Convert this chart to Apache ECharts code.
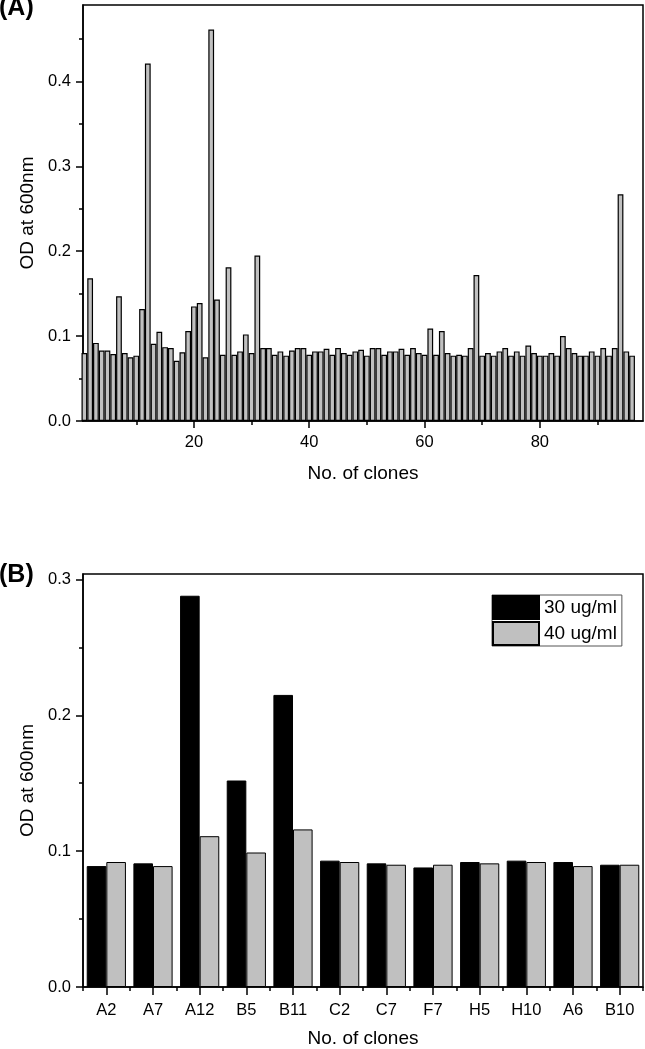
<!DOCTYPE html>
<html>
<head>
<meta charset="utf-8">
<script src="https://cdn.jsdelivr.net/npm/echarts@6/dist/echarts.min.js"></script>
<style>
html,body{margin:0;padding:0;background:#fff;}
#chart{width:645px;height:1049px;}
</style>
</head>
<body>
<div id="chart"></div>
<script>
// ---------- Panel A data ----------
const aValues = [
  0.080, 0.168, 0.092, 0.083, 0.083, 0.079, 0.147, 0.080, 0.075, 0.077,
  0.132, 0.421, 0.091, 0.105, 0.087, 0.086, 0.071, 0.081, 0.106, 0.135,
  0.139, 0.075, 0.461, 0.143, 0.078, 0.181, 0.078, 0.082, 0.102, 0.080,
  0.195, 0.086, 0.086, 0.078, 0.082, 0.077, 0.083, 0.086, 0.086, 0.078,
  0.082, 0.082, 0.085, 0.078, 0.086, 0.080, 0.078, 0.082, 0.084, 0.077,
  0.086, 0.086, 0.078, 0.082, 0.082, 0.085, 0.078, 0.086, 0.080, 0.078,
  0.109, 0.078, 0.106, 0.080, 0.077, 0.078, 0.077, 0.086, 0.172, 0.077,
  0.080, 0.077, 0.082, 0.086, 0.077, 0.082, 0.077, 0.089, 0.080, 0.077,
  0.077, 0.080, 0.077, 0.100, 0.086, 0.080, 0.077, 0.077, 0.082, 0.077,
  0.086, 0.077, 0.086, 0.267, 0.082, 0.077
];
const aClones = aValues.map((v, i) => i + 1);
const aXMajorTicks = [20, 40, 60, 80];
const aXMinorTicks = [10, 30, 50, 70, 90];
const aYMajorTicks = [0, 0.1, 0.2, 0.3, 0.4];
const aYMinorTicks = [0.05, 0.15, 0.25, 0.35, 0.45];

// ---------- Panel B data ----------
const bCategories = ['A2', 'A7', 'A12', 'B5', 'B11', 'C2', 'C7', 'F7', 'H5', 'H10', 'A6', 'B10'];
const b30 = [0.089, 0.091, 0.288, 0.152, 0.215, 0.093, 0.091, 0.088, 0.092, 0.093, 0.092, 0.090];
const b40 = [0.092, 0.089, 0.111, 0.099, 0.116, 0.092, 0.090, 0.090, 0.091, 0.092, 0.089, 0.090];
const bSeriesNames = ['30 ug/ml', '40 ug/ml'];
const bYMajorTicks = [0, 0.1, 0.2, 0.3];
const bYMinorTicks = [0.05, 0.15, 0.25];

const FONT = "'Liberation Sans', Arial, Helvetica, sans-serif";
const lineStyle = { color: '#000', width: 1.5 };
const TICK_FS = 16.5;
const NAME_FS = 19;

const chart = echarts.init(document.getElementById('chart'), null, { renderer: 'canvas' });

function tickAxisBase(extra) {
  return Object.assign({
    axisLine: { show: true, lineStyle: lineStyle },
    splitLine: { show: false },
    axisLabel: { show: false },
    axisTick: { show: false }
  }, extra);
}

const option = {
  backgroundColor: '#fff',
  animation: false,
  textStyle: { fontFamily: FONT, color: '#000' },
  title: [
    { text: '(A)', left: -1, top: -4, padding: 0, textStyle: { fontFamily: FONT, fontWeight: 'bold', fontSize: 25, color: '#000' } },
    { text: '(B)', left: -1, top: 563, padding: 0, textStyle: { fontFamily: FONT, fontWeight: 'bold', fontSize: 25, color: '#000' } }
  ],
  grid: [
    { left: 83, top: 5, width: 560, height: 416, show: true, borderColor: '#000', borderWidth: 1.5, backgroundColor: 'transparent', containLabel: false },
    { left: 83, top: 574, width: 560, height: 416, show: true, borderColor: '#000', borderWidth: 1.5, backgroundColor: 'transparent', containLabel: false }
  ],
  legend: {
    data: bSeriesNames,
    orient: 'vertical',
    left: 492,
    top: 595,
    itemWidth: 46,
    itemHeight: 23,
    itemGap: 1,
    padding: [0, 5, 0, 0],
    borderColor: '#555',
    borderWidth: 1,
    icon: 'rect',
    textStyle: { fontFamily: FONT, fontSize: NAME_FS, color: '#000' }
  },
  xAxis: [
    tickAxisBase({
      type: 'value', gridIndex: 0, position: 'bottom', min: 0.76, max: 97.9,
      axisTick: { show: true, customValues: aXMajorTicks, length: 7, lineStyle: lineStyle },
      axisLabel: { show: true, customValues: aXMajorTicks, fontSize: TICK_FS, margin: 13, color: '#000', fontFamily: FONT },
      name: 'No. of clones', nameLocation: 'middle', nameGap: 43,
      nameTextStyle: { fontSize: NAME_FS, color: '#000', fontFamily: FONT }
    }),
    tickAxisBase({
      type: 'value', gridIndex: 0, position: 'bottom', min: 0.76, max: 97.9,
      axisLine: { show: false },
      axisTick: { show: true, customValues: aXMinorTicks, length: 4, lineStyle: lineStyle }
    }),
    tickAxisBase({
      type: 'category', gridIndex: 1, position: 'bottom', data: bCategories,
      axisTick: { show: true, alignWithLabel: true, length: 8, lineStyle: lineStyle },
      axisLabel: { show: true, fontSize: TICK_FS, margin: 15, color: '#000', fontFamily: FONT, interval: 0 },
      name: 'No. of clones', nameLocation: 'middle', nameGap: 42,
      nameTextStyle: { fontSize: NAME_FS, color: '#000', fontFamily: FONT }
    }),
    tickAxisBase({
      type: 'category', gridIndex: 1, position: 'bottom', data: bCategories,
      axisLine: { show: false },
      axisTick: { show: true, length: 4, interval: 0, lineStyle: lineStyle }
    })
  ],
  yAxis: [
    tickAxisBase({
      type: 'value', gridIndex: 0, position: 'left', min: 0, max: 0.49,
      axisTick: { show: true, customValues: aYMajorTicks, length: 7, lineStyle: lineStyle },
      axisLabel: { show: true, customValues: aYMajorTicks, fontSize: TICK_FS, margin: 12, color: '#000', fontFamily: FONT,
        formatter: v => v.toFixed(1) },
      name: 'OD at 600nm', nameLocation: 'middle', nameGap: 44, nameRotate: 90,
      nameTextStyle: { fontSize: NAME_FS, color: '#000', fontFamily: FONT }
    }),
    tickAxisBase({
      type: 'value', gridIndex: 0, position: 'left', min: 0, max: 0.49,
      axisLine: { show: false },
      axisTick: { show: true, customValues: aYMinorTicks, length: 4, lineStyle: lineStyle }
    }),
    tickAxisBase({
      type: 'value', gridIndex: 1, position: 'left', min: 0, max: 0.304,
      axisTick: { show: true, customValues: bYMajorTicks, length: 7, lineStyle: lineStyle },
      axisLabel: { show: true, customValues: bYMajorTicks, fontSize: TICK_FS, margin: 12, color: '#000', fontFamily: FONT,
        formatter: v => v.toFixed(1) },
      name: 'OD at 600nm', nameLocation: 'middle', nameGap: 44, nameRotate: 90,
      nameTextStyle: { fontSize: NAME_FS, color: '#000', fontFamily: FONT }
    }),
    tickAxisBase({
      type: 'value', gridIndex: 1, position: 'left', min: 0, max: 0.304,
      axisLine: { show: false },
      axisTick: { show: true, customValues: bYMinorTicks, length: 4, lineStyle: lineStyle }
    })
  ],
  series: [
    {
      type: 'bar', xAxisIndex: 0, yAxisIndex: 0,
      data: aClones.map((c, i) => [c, aValues[i]]),
      barWidth: 5.77,
      itemStyle: { color: '#c0c0c0', borderColor: '#000', borderWidth: 1.2 },
      clip: true
    },
    {
      name: bSeriesNames[0], type: 'bar', xAxisIndex: 2, yAxisIndex: 2,
      data: b30, barGap: '0%', barCategoryGap: '16%',
      itemStyle: { color: '#000', borderColor: '#000', borderWidth: 1 }
    },
    {
      name: bSeriesNames[1], type: 'bar', xAxisIndex: 2, yAxisIndex: 2,
      data: b40, barGap: '0%', barCategoryGap: '16%',
      itemStyle: { color: '#c0c0c0', borderColor: '#000', borderWidth: 1 }
    }
  ]
};
chart.setOption(option);
</script>
</body>
</html>
